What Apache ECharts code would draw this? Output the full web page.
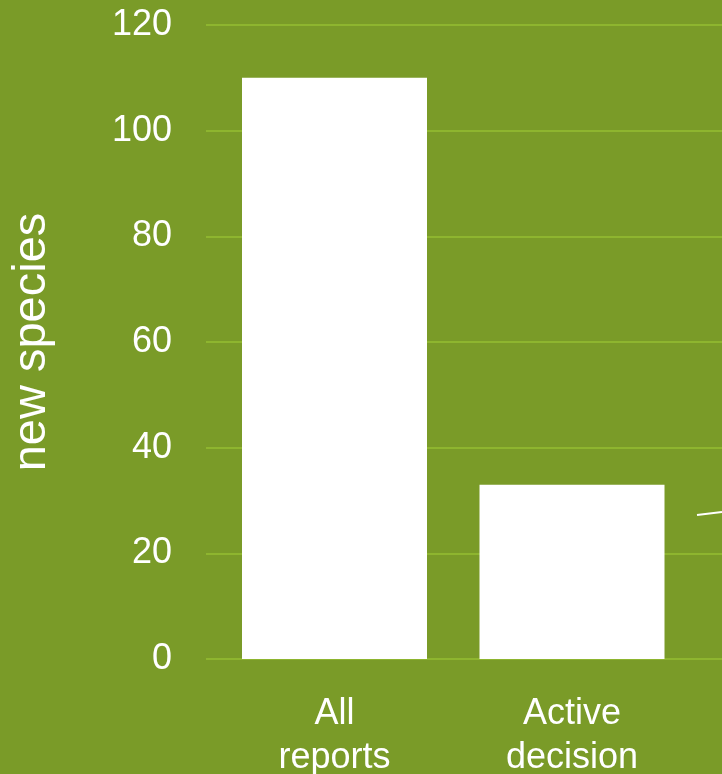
<!DOCTYPE html>
<html>
<head>
<meta charset="utf-8">
<script src="https://cdn.jsdelivr.net/npm/echarts@6/dist/echarts.min.js"></script>
<style>
html,body{margin:0;padding:0;background:#7A9B28;}
#chart{width:722px;height:774px;}
</style>
</head>
<body>
<div id="chart"></div>
<script>
var categories = ["All reports", "Active decision"];
var newSpecies = [110, 33];
var yTicks = [0, 20, 40, 60, 80, 100, 120];

var FONT = "'Liberation Sans', Arial, sans-serif";
var GRID_COLOR = "#96BE32";

var chart = echarts.init(document.getElementById('chart'), null, {renderer: 'canvas'});
chart.setOption({
  backgroundColor: '#7A9B28',
  animation: false,
  grid: [
    {left: 206, right: 0, top: 25, bottom: 115, outerBoundsMode: 'none', containLabel: false},
    {left: 215.75, right: 31.25, top: 25, bottom: 115, outerBoundsMode: 'none', containLabel: false}
  ],
  xAxis: [
    {gridIndex: 0, type: 'value', show: false, min: 0, max: 1},
    {
      gridIndex: 1, type: 'category', data: categories,
      axisLine: {show: false}, axisTick: {show: false},
      axisLabel: {
        color: '#fff', fontFamily: FONT, fontSize: 36, lineHeight: 44, margin: 33,
        formatter: function (v) { return v.replace(' ', '\n'); }
      }
    }
  ],
  yAxis: [
    {
      gridIndex: 0, type: 'value', min: yTicks[0], max: yTicks[yTicks.length - 1], interval: 20,
      axisLine: {show: false}, axisTick: {show: false},
      splitLine: {show: true, lineStyle: {color: GRID_COLOR, width: 1.5}},
      axisLabel: {color: '#fff', fontFamily: FONT, fontSize: 36, margin: 34},
      name: 'new species', nameLocation: 'middle', nameRotate: 90, nameGap: 150,
      nameTextStyle: {color: '#fff', fontFamily: FONT, fontSize: 47}
    },
    {gridIndex: 1, type: 'value', min: 0, max: 120, show: false}
  ],
  series: [{
    type: 'bar', xAxisIndex: 1, yAxisIndex: 1,
    data: newSpecies, barWidth: 185,
    itemStyle: {color: '#ffffff'}
  }],
  graphic: [{
    type: 'line', silent: true,
    shape: {x1: 697, y1: 515, x2: 722, y2: 512},
    style: {stroke: '#ffffff', lineWidth: 2}
  }]
});
</script>
</body>
</html>
